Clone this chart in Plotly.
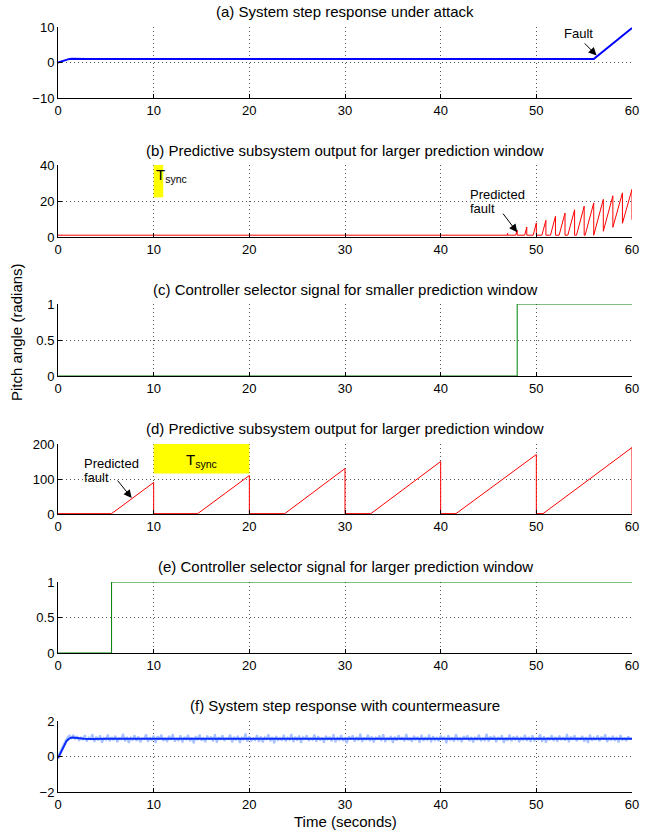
import numpy as np
import plotly.graph_objects as go
from plotly.subplots import make_subplots

# ---------------- data ----------------
# (a) System step response under attack
a_time = [0, 0.3, 0.6, 0.9, 1.2, 1.5, 2.0, 3.0, 56.0, 60.0]
a_pitch = [0, 0.3, 0.62, 0.88, 1.02, 1.06, 1.02, 1.0, 1.0, 9.7]

# (b) Predictive subsystem output (smaller window: 1 s)
b_base = 1.0
b_ramp_start = [46.95, 47.85, 48.78, 49.67, 50.58, 51.48, 52.38, 53.29, 54.2, 55.1, 56.0, 57.0, 58.0, 59.0]
b_peak_time = [47, 48, 49, 50, 51, 52, 53, 54, 55, 56, 57, 58, 59, 60]
b_peak = [2.0, 3.8, 5.5, 7.8, 9.3, 11.5, 13.3, 15.1, 17.1, 18.9, 20.9, 22.9, 24.5, 26.5]
b_reset = [1, 1, 1, 1, 1, 1, 1, 1, 1, 1, 3.2, 5.4, 7.6, 9.6]

# (c) Controller selector signal, smaller window
c_time = [0, 48, 48, 60]
c_sel = [0, 0, 1, 1]

# (d) Predictive subsystem output (larger window: 10 s)
d_base = 1.0
d_ramp_start = [5.6, 14.6, 23.7, 32.7, 41.6, 50.7]
d_peak_time = [10, 20, 30, 40, 50, 60]
d_peak = [90, 110, 130, 150, 170, 190]
d_reset = [1, 1, 1, 1, 1, 1]

# (e) Controller selector signal, larger window
e_time = [0, 5.6, 5.6, 60]
e_sel = [0, 0, 1, 1]

# (f) System step response with countermeasure
f_time = [0, 0.3, 0.6, 0.9, 1.2, 1.5, 1.8, 2.2, 2.7, 3.5, 5.0, 60.0]
f_pitch = [-0.1, 0.25, 0.6, 0.88, 1.02, 1.07, 1.06, 1.03, 1.0, 0.98, 1.0, 1.0]
f_noisy_step = 0.2
f_noisy_pct = [
    0, 20, 45, 70, 92, 108, 118, 104, 122, 96,
    115, 88, 110, 93, 121, 84, 107, 98, 126, 82,
    112, 90, 119, 78, 105, 95, 124, 86, 109, 92,
    117, 81, 103, 97, 128, 85, 111, 76, 106, 94,
    120, 87, 113, 80, 102, 99, 125, 83, 108, 91,
    118, 77, 114, 96, 123, 88, 105, 82, 116, 93,
    127, 84, 101, 90, 119, 79, 110, 97, 122, 86,
    107, 74, 115, 92, 124, 89, 103, 81, 118, 95,
    112, 85, 126, 78, 109, 94, 120, 87, 104, 98,
    123, 80, 111, 91, 117, 76, 106, 96, 129, 83,
    114, 88, 102, 93, 121, 82, 113, 79, 108, 97,
    125, 86, 110, 75, 116, 92, 104, 89, 122, 84,
    106, 95, 127, 81, 112, 90, 118, 77, 109, 99,
    120, 87, 103, 94, 124, 83, 115, 91, 107, 78,
    117, 96, 111, 85, 126, 80, 105, 93, 121, 88,
    102, 76, 114, 97, 119, 84, 110, 90, 128, 82,
    108, 92, 123, 86, 113, 79, 106, 98, 118, 87,
    125, 81, 104, 95, 116, 77, 112, 89, 120, 93,
    109, 85, 127, 91, 103, 83, 117, 96, 111, 78,
    122, 88, 106, 94, 124, 80, 114, 92, 105, 86,
    118, 97, 110, 75, 121, 90, 108, 84, 126, 93,
    104, 82, 115, 98, 119, 87, 111, 79, 107, 95,
    123, 86, 102, 91, 128, 84, 113, 96, 117, 81,
    109, 93, 120, 77, 106, 89, 124, 85, 112, 97,
    116, 80, 105, 94, 122, 88, 110, 83, 119, 90,
    103, 96, 125, 82, 114, 78, 108, 92, 121, 87,
    111, 84, 118, 95, 106, 91, 127, 80, 113, 94,
    120, 86, 104, 97, 116, 83, 109, 76, 123, 89,
    107, 92, 119, 85, 112, 96, 125, 81, 105, 93,
    117, 88, 110, 79, 121, 94, 103, 87, 114, 98, 100,
]

x_ticks = [0, 10, 20, 30, 40, 50, 60]
titles = [
    "(a) System step response under attack",
    "(b) Predictive subsystem output for larger prediction window",
    "(c) Controller selector signal for smaller prediction window",
    "(d) Predictive subsystem output for larger prediction window",
    "(e) Controller selector signal for larger prediction window",
    "(f) System step response with countermeasure",
]
y_ranges = [[-10, 10], [0, 40], [0, 1], [0, 200], [0, 1], [-2, 2]]
y_ticks = [[-10, 0, 10], [0, 20, 40], [0, 0.5, 1], [0, 100, 200], [0, 0.5, 1], [-2, 0, 2]]


def sawtooth(base, starts, peak_times, peaks, resets):
    t, y = [0.0], [base]
    level = base
    for s, tp, pk, rs in zip(starts, peak_times, peaks, resets):
        t += [s, tp, tp]
        y += [level, pk, rs]
        level = rs
    return t, y


b_t, b_y = sawtooth(b_base, b_ramp_start, b_peak_time, b_peak, b_reset)
d_t, d_y = sawtooth(d_base, d_ramp_start, d_peak_time, d_peak, d_reset)
f_noisy_t = [round(i * f_noisy_step, 3) for i in range(len(f_noisy_pct))]
f_noisy_y = [v / 100 for v in f_noisy_pct]

# ---------------- layout geometry ----------------
W, H = 657, 834
ML, MR, MT, MB = 58, 25, 27, 42
PH = H - MT - MB
bottom_px = H - MB
axis_px = [(27, 98), (165, 237), (304, 376), (444, 514), (582, 653), (721, 792)]
title_px = [11, 150, 289, 428, 566, 705]


def py(ypx):
    return (bottom_px - ypx) / PH


FONT = "Liberation Sans, Arial, Helvetica, sans-serif"

fig = make_subplots(rows=6, cols=1)

fig.add_trace(go.Scatter(x=a_time, y=a_pitch, mode="lines",
                         line=dict(color="#0000ff", width=2)), row=1, col=1)
fig.add_trace(go.Scatter(x=b_t, y=b_y, mode="lines",
                         line=dict(color="#ff0000", width=1)), row=2, col=1)
fig.add_trace(go.Scatter(x=c_time, y=c_sel, mode="lines",
                         line=dict(color="#008000", width=1)), row=3, col=1)
fig.add_trace(go.Scatter(x=d_t, y=d_y, mode="lines",
                         line=dict(color="#ff0000", width=1)), row=4, col=1)
fig.add_trace(go.Scatter(x=e_time, y=e_sel, mode="lines",
                         line=dict(color="#008000", width=1)), row=5, col=1)
fig.add_trace(go.Scatter(x=f_noisy_t, y=f_noisy_y, mode="lines",
                         line=dict(color="#a8c2ff", width=2)), row=6, col=1)
fig.add_trace(go.Scatter(x=f_time, y=f_pitch, mode="lines",
                         line=dict(color="#0a2cff", width=2)), row=6, col=1)

for i in range(6):
    top, bot = axis_px[i]
    fig.update_xaxes(row=i + 1, col=1, domain=[0, 1], range=[0, 60], tickvals=x_ticks,
                     ticks="inside", ticklen=4, tickcolor="black", showline=True,
                     linecolor="black", linewidth=1, mirror=False, showgrid=True,
                     gridcolor="#555", griddash="1px,3px", gridwidth=1, zeroline=False,
                     tickfont=dict(size=13, color="black", family=FONT))
    fig.update_yaxes(row=i + 1, col=1, domain=[py(bot), py(top)], range=y_ranges[i],
                     tickvals=y_ticks[i], ticks="inside", ticklen=4, tickcolor="black",
                     showline=True, linecolor="black", linewidth=1, mirror=False,
                     showgrid=True, gridcolor="#555", griddash="1px,3px", gridwidth=1,
                     zeroline=False, tickfont=dict(size=13, color="black", family=FONT))

annotations = []
for i, t in enumerate(titles):
    annotations.append(dict(text=t, xref="paper", yref="paper", x=0.5, y=py(title_px[i]),
                            xanchor="center", yanchor="middle", showarrow=False,
                            font=dict(size=15, color="black", family=FONT)))

# axis titles
annotations.append(dict(text="Time (seconds)", xref="paper", yref="paper", x=0.5,
                        y=py(821), xanchor="center", yanchor="middle", showarrow=False,
                        font=dict(size=15, color="black", family=FONT)))
annotations.append(dict(text="Pitch angle (radians)", xref="paper", yref="paper",
                        x=(16 - ML) / (W - ML - MR), y=py(332), xanchor="center",
                        yanchor="middle", textangle=-90, showarrow=False,
                        font=dict(size=15, color="black", family=FONT)))

# (a) Fault
annotations.append(dict(text="Fault", xref="x", yref="y", x=54.4, y=8.3, showarrow=False,
                        xanchor="center", yanchor="middle",
                        font=dict(size=13, color="black", family=FONT)))
annotations.append(dict(text="", xref="x", yref="y", x=56.3, y=2.0, axref="x", ayref="y",
                        ax=54.9, ay=5.8, showarrow=True, arrowhead=2, arrowsize=1.6,
                        arrowwidth=1, arrowcolor="black"))

# (b) Predicted fault + Tsync
annotations.append(dict(text="Predicted", xref="x2", yref="y2", x=42.9, y=24.0,
                        showarrow=False, xanchor="left", yanchor="middle", height=12,
                        font=dict(size=13, color="black", family=FONT)))
annotations.append(dict(text="fault", xref="x2", yref="y2", x=42.9, y=16.3,
                        showarrow=False, xanchor="left", yanchor="middle", height=12,
                        font=dict(size=13, color="black", family=FONT)))
annotations.append(dict(text="", xref="x2", yref="y2", x=48.0, y=2.6, axref="x2", ayref="y2",
                        ax=46.4, ay=13.8, showarrow=True, arrowhead=2, arrowsize=1.6,
                        arrowwidth=1, arrowcolor="black"))
annotations.append(dict(text="T<sub>sync</sub>", xref="x2", yref="y2", x=10.0, y=39.9,
                        showarrow=False, xanchor="left", yanchor="top", yshift=1,
                        font=dict(size=15, color="black", family=FONT)))

# (d) Predicted fault + Tsync
annotations.append(dict(text="Predicted", xref="x4", yref="y4", x=2.5, y=145,
                        showarrow=False, xanchor="left", yanchor="middle", height=12,
                        font=dict(size=13, color="black", family=FONT)))
annotations.append(dict(text="fault", xref="x4", yref="y4", x=2.5, y=107,
                        showarrow=False, xanchor="left", yanchor="middle", height=12,
                        font=dict(size=13, color="black", family=FONT)))
annotations.append(dict(text="", xref="x4", yref="y4", x=7.7, y=46, axref="x4", ayref="y4",
                        ax=6.1, ay=100, showarrow=True, arrowhead=2, arrowsize=1.6,
                        arrowwidth=1, arrowcolor="black"))
annotations.append(dict(text="T<sub>sync</sub>", xref="x4", yref="y4", x=15.0, y=153,
                        showarrow=False, xanchor="center", yanchor="middle",
                        font=dict(size=15, color="black", family=FONT)))

shapes = [
    dict(type="rect", xref="x2", yref="y2", x0=10, x1=11, y0=22, y1=40,
         fillcolor="#ffff00", line=dict(width=0), layer="above"),
    dict(type="rect", xref="x4", yref="y4", x0=10, x1=20, y0=116, y1=200,
         fillcolor="#ffff00", line=dict(width=0), layer="above"),
]

fig.update_layout(width=W, height=H, margin=dict(l=ML, r=MR, t=MT, b=MB),
                  paper_bgcolor="white", plot_bgcolor="white", showlegend=False,
                  font=dict(family=FONT, color="black"),
                  annotations=annotations, shapes=shapes)

fig.write_html("out.html", config={"displayModeBar": False},
               post_script="document.body.style.margin='0px';")
